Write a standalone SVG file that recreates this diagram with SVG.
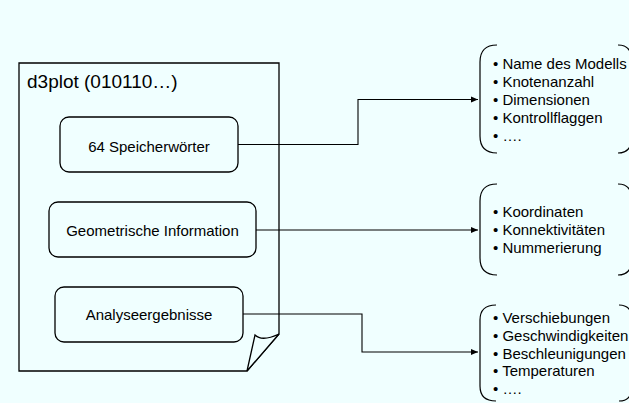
<svg xmlns="http://www.w3.org/2000/svg" width="629" height="403" viewBox="0 0 629 403">
<style>
.bg{fill:#F0FFFF}
.shape{fill:#F0FFFF;stroke:#000;stroke-width:1.3}
.box{fill:#F0FFFF;stroke:#000;stroke-width:1.3}
.brace{fill:none;stroke:#000;stroke-width:1.2}
.conn{fill:none;stroke:#000;stroke-width:1.1}
text{font-family:"Liberation Sans",Arial,sans-serif;fill:#000}
.t15{font-size:15px}
.title{font-size:19px}
.c{text-anchor:middle}
</style>
<defs>
<marker id="arr" markerWidth="8" markerHeight="8" refX="7" refY="4" orient="auto" markerUnits="userSpaceOnUse">
<path d="M0,1 L7,4 L0,7 Z" fill="#000"/>
</marker>
</defs>
<rect class="bg" x="0" y="0" width="629" height="403"/>
<g id="document">
<path class="shape" d="M19,63 H279 V334 L247,371 H19 Z"/>
<path class="shape" d="M247,371 L255,335 Q262,342 279,334 Z"/>
<text class="title" x="27" y="88">d3plot (010110…)</text>
</g>
<g id="node-speicher">
<rect class="box" x="60" y="117" width="178" height="55" rx="9"/>
<text class="t15 c" x="149" y="151.5">64 Speicherwörter</text>
</g>
<g id="node-geometrie">
<rect class="box" x="49" y="202" width="207" height="55" rx="9"/>
<text class="t15 c" x="152.5" y="235.5">Geometrische Information</text>
</g>
<g id="node-analyse">
<rect class="box" x="55" y="287" width="188" height="55" rx="9"/>
<text class="t15 c" x="149" y="320">Analyseergebnisse</text>
</g>
<g id="connectors">
<path class="conn" d="M238,144.5 H358 V99.5 H478" marker-end="url(#arr)"/>
<path class="conn" d="M256,230 H478" marker-end="url(#arr)"/>
<path class="conn" d="M243,314 H362 V352 H478" marker-end="url(#arr)"/>
</g>
<g id="list-header">
<path class="brace" d="M497,45 Q480,45 480,62 V136 Q480,153 497,153"/>
<path class="brace" d="M618,45 Q632,45 632,62 V136 Q632,153 618,153"/>
<text class="t15" x="493" y="69">• Name des Modells</text>
<text class="t15" x="493" y="87">• Knotenanzahl</text>
<text class="t15" x="493" y="105">• Dimensionen</text>
<text class="t15" x="493" y="123">• Kontrollflaggen</text>
<text class="t15" x="493" y="141">• ….</text>
</g>
<g id="list-geometry">
<path class="brace" d="M497,184 Q480,184 480,201 V258 Q480,275 497,275"/>
<path class="brace" d="M618,184 Q632,184 632,201 V258 Q632,275 618,275"/>
<text class="t15" x="493" y="217">• Koordinaten</text>
<text class="t15" x="493" y="235">• Konnektivitäten</text>
<text class="t15" x="493" y="253">• Nummerierung</text>
</g>
<g id="list-results">
<path class="brace" d="M496,305 Q480,305 480,320 V386 Q480,401 496,401"/>
<path class="brace" d="M619,305 Q632,305 632,320 V386 Q632,401 619,401"/>
<text class="t15" x="493" y="323">• Verschiebungen</text>
<text class="t15" x="493" y="341">• Geschwindigkeiten</text>
<text class="t15" x="493" y="358.5">• Beschleunigungen</text>
<text class="t15" x="493" y="376">• Temperaturen</text>
<text class="t15" x="493" y="393.5">• ….</text>
</g>
</svg>
